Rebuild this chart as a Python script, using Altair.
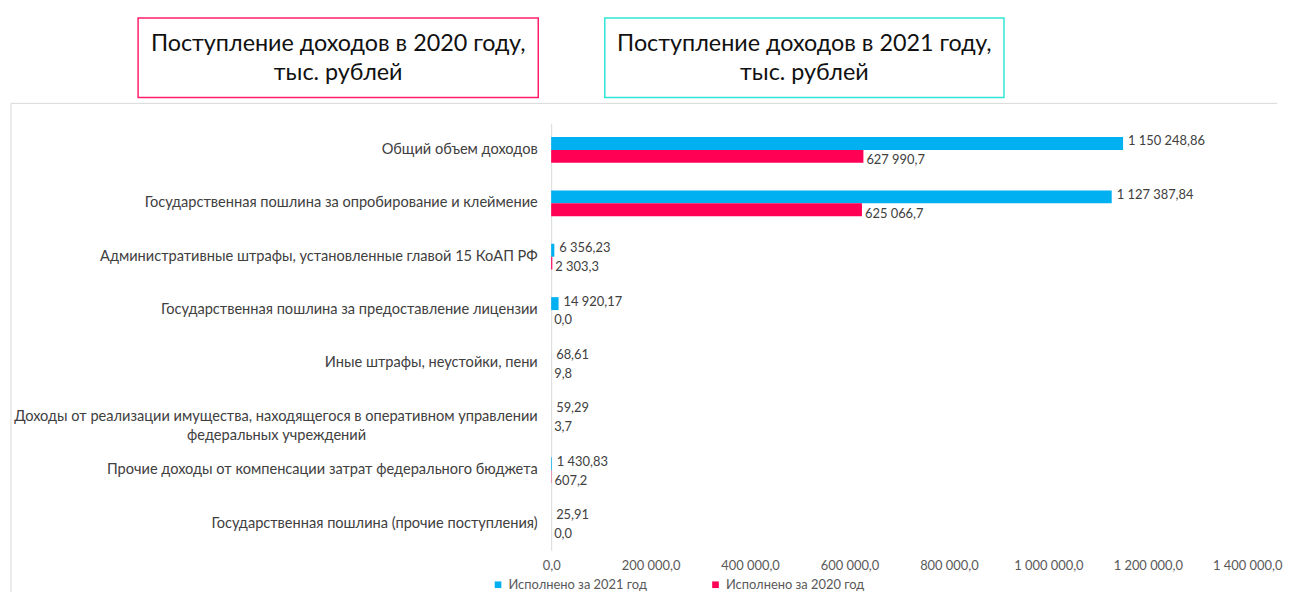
import altair as alt
import pandas as pd

categories = [
    "Общий объем доходов",
    "Государственная пошлина за опробирование и клеймение",
    "Административные штрафы, установленные главой 15 КоАП РФ",
    "Государственная пошлина за предоставление лицензии",
    "Иные штрафы, неустойки, пени",
    "Доходы от реализации имущества, находящегося в оперативном управлении\nфедеральных учреждений",
    "Прочие доходы от компенсации затрат федерального бюджета",
    "Государственная пошлина (прочие поступления)",
]
values_2021 = [1150248.86, 1127387.84, 6356.23, 14920.17, 68.61, 59.29, 1430.83, 25.91]
values_2020 = [627990.7, 625066.7, 2303.3, 0.0, 9.8, 3.7, 607.2, 0.0]
series_names = ["Исполнено за 2021 год", "Исполнено за 2020 год"]
series_colors = ["#00B0F0", "#FF0055"]
x_ticks = [0, 200000, 400000, 600000, 800000, 1000000, 1200000, 1400000]
box_titles = ["Поступление доходов в 2020 году,\nтыс. рублей", "Поступление доходов в 2021 году,\nтыс. рублей"]
box_colors = ["#FF1F6B", "#2EE6D6"]

FONT = "Lato"


def ru(v, d):
    return f"{v:,.{d}f}".replace(",", " ").replace(".", ",")


rows = []
for c, a, b in zip(categories, values_2021, values_2020):
    rows.append({"category": c, "series": series_names[0], "value": a, "label": ru(a, 2)})
    rows.append({"category": c, "series": series_names[1], "value": b, "label": ru(b, 1)})
df = pd.DataFrame(rows)

W, H = 1275, 486

# two-line label: second line padded at its end with no-break spaces (closed by a
# zero-width space so they are not trimmed) so that it sits centred under the first
y_label_expr = (
    "length(split(datum.label, '\\n')) > 1 ? "
    "[split(datum.label, '\\n')[0], "
    "pad(split(datum.label, '\\n')[1], 68, '\u00a0', 'right') + '\u200b'] "
    ": datum.label"
)

y_axis = alt.Axis(
    title=None, orient="left", offset=-544, domain=True, domainColor="#D9D9D9",
    ticks=False, grid=False, labelPadding=14, labelLimit=700, labelFont=FONT,
    labelFontSize=14.7, labelColor="#404040", labelLineHeight=19,
    labelExpr=y_label_expr,
)
x_axis = alt.Axis(
    title=None, orient="bottom", values=x_ticks, domain=False, ticks=False, grid=False,
    offset=-29, labelPadding=2, labelFont=FONT, labelFontSize=13, labelFlush=False,
    labelColor="#595959",
    labelExpr="replace(replace(replace(format(datum.value, ',.1f'), ',', ' '), ',', ' '), '.', ',')",
)

y_scale = alt.Scale(range=[20, 450], paddingInner=0.516, paddingOuter=0.258)
x_scale = alt.Scale(domain=[0, 1400000], range=[544, 1245], nice=False)


def y_enc():
    return alt.Y("category:N", sort=categories, scale=y_scale, axis=y_axis)


def x_enc():
    return alt.X("value:Q", scale=x_scale, axis=x_axis)


def yoff():
    return alt.YOffset("series:N", sort=series_names,
                       scale=alt.Scale(paddingInner=0, paddingOuter=0))


bars = alt.Chart(df).mark_bar().encode(
    y=y_enc(), x=x_enc(), yOffset=yoff(),
    color=alt.Color("series:N", sort=series_names,
                    scale=alt.Scale(domain=series_names, range=series_colors),
                    legend=alt.Legend(orient="none", legendX=484, legendY=564,
                                      direction="horizontal", title=None,
                                      symbolType="square", symbolSize=45,
                                      symbolStrokeWidth=0, labelFont=FONT,
                                      labelFontSize=13, labelColor="#595959",
                                      columnPadding=62, labelOffset=4)),
)


def value_labels(series, dx, dy):
    return alt.Chart(df).transform_filter(alt.datum.series == series).mark_text(
        align="left", baseline="middle", dx=dx, dy=dy,
        font=FONT, fontSize=13, color="#404040",
    ).encode(y=y_enc(), x=x_enc(), yOffset=yoff(), text="label:N")


labels_2021 = value_labels(series_names[0], 5, -2)
labels_2020 = value_labels(series_names[1], 3, 4)

dummy = pd.DataFrame({"k": [0]})
top_border = alt.Chart(dummy).mark_rule(color="#D9D9D9", strokeWidth=1).encode(
    x=alt.value(0), x2=alt.value(W), y=alt.value(0))
left_border = alt.Chart(dummy).mark_rule(color="#D9D9D9", strokeWidth=1).encode(
    x=alt.value(0), y=alt.value(0), y2=alt.value(H + 6))

main = alt.layer(top_border, left_border, bars, labels_2021, labels_2020).properties(
    width=W, height=H, view=alt.ViewBackground(stroke="transparent"))


def box(title, color, w):
    return alt.Chart(pd.DataFrame({"t": [title]})).mark_text(
        font=FONT, fontSize=23.5, lineBreak="\n", lineHeight=29, color="#111111",
        baseline="middle", align="center",
    ).encode(text="t:N", x=alt.value(w / 2), y=alt.value(26)).properties(
        width=w, height=80, view=alt.ViewBackground(stroke=color, strokeWidth=1.5))


spacer = alt.Chart(pd.DataFrame({"t": [""]})).mark_text().encode(text="t:N").properties(
    width=61, height=80, view=alt.ViewBackground(stroke="transparent"))

header = alt.hconcat(spacer, box(box_titles[0], box_colors[0], 403),
                     box(box_titles[1], box_colors[1], 402), spacing=65)

chart = alt.vconcat(header, main, spacing=4).properties(
    padding={"left": 2, "top": 7, "right": 0, "bottom": 0}
).configure_view(stroke="transparent")

chart.save("out.html", embed_options={"renderer": "svg", "actions": False})
